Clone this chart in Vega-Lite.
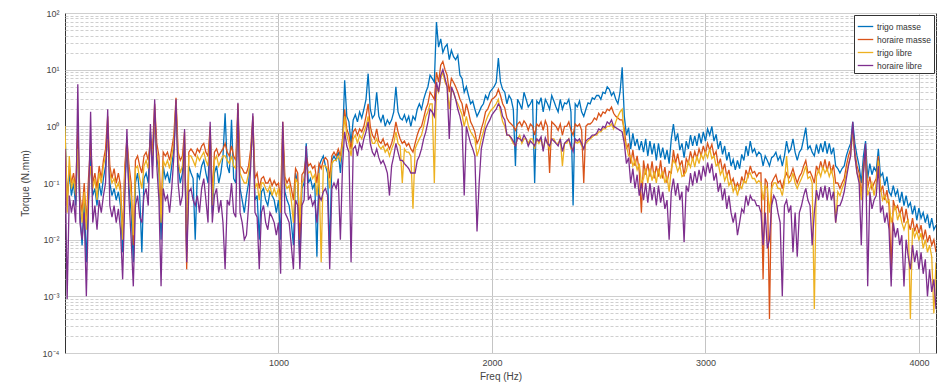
{
  "$schema": "https://vega.github.io/schema/vega-lite/v6.json",
  "width": 871,
  "height": 340,
  "autosize": {"type": "none"},
  "padding": {"left": 65, "top": 13, "right": 12, "bottom": 37},
  "background": "white",
  "config": {
    "font": "Liberation Sans",
    "view": {"stroke": "#333333", "strokeWidth": 1},
    "axis": {"labelColor": "#444444", "titleColor": "#444444", "labelFontSize": 9, "titleFontSize": 10, "titleFontWeight": "normal", "domain": false, "ticks": false}
  },
  "data": {"values": [
{"f":0,"a":0.9,"b":0.6,"c":1.0,"d":0.4},
{"f":10,"a":0.05,"b":0.04,"c":0.03,"d":0.0009},
{"f":20,"a":0.15,"b":0.2,"c":0.3,"d":0.06},
{"f":30,"a":0.06,"b":0.1,"c":0.08,"d":0.03},
{"f":40,"a":0.1,"b":0.15,"c":0.12,"d":0.05},
{"f":50,"a":0.04,"b":0.08,"c":0.06,"d":0.02},
{"f":60,"a":0.6,"b":0.9,"c":0.4,"d":5.5},
{"f":70,"a":0.03,"b":0.06,"c":0.05,"d":0.02},
{"f":80,"a":0.008,"b":0.03,"c":0.02,"d":0.01},
{"f":90,"a":0.05,"b":0.1,"c":0.07,"d":0.03},
{"f":100,"a":0.004,"b":0.02,"c":0.015,"d":0.001},
{"f":110,"a":0.05,"b":0.12,"c":0.08,"d":0.04},
{"f":120,"a":0.3,"b":0.5,"c":0.2,"d":1.8},
{"f":130,"a":0.06,"b":0.1,"c":0.08,"d":0.02},
{"f":140,"a":0.08,"b":0.15,"c":0.12,"d":0.04},
{"f":150,"a":0.04,"b":0.08,"c":0.05,"d":0.015},
{"f":160,"a":0.1,"b":0.2,"c":0.15,"d":0.05},
{"f":170,"a":0.06,"b":0.12,"c":0.1,"d":0.03},
{"f":180,"a":0.12,"b":0.25,"c":0.2,"d":0.06},
{"f":190,"a":0.2,"b":0.4,"c":0.3,"d":0.1},
{"f":200,"a":0.9,"b":1.5,"c":0.6,"d":2.0},
{"f":210,"a":0.1,"b":0.2,"c":0.15,"d":0.04},
{"f":220,"a":0.06,"b":0.12,"c":0.1,"d":0.025},
{"f":230,"a":0.08,"b":0.18,"c":0.12,"d":0.04},
{"f":240,"a":0.05,"b":0.1,"c":0.08,"d":0.02},
{"f":250,"a":0.07,"b":0.15,"c":0.1,"d":0.035},
{"f":260,"a":0.04,"b":0.09,"c":0.07,"d":0.015},
{"f":270,"a":0.006,"b":0.012,"c":0.01,"d":0.002},
{"f":280,"a":0.1,"b":0.2,"c":0.15,"d":0.05},
{"f":290,"a":0.4,"b":0.6,"c":0.5,"d":0.9},
{"f":300,"a":0.08,"b":0.2,"c":0.15,"d":0.05},
{"f":310,"a":0.03,"b":0.1,"c":0.06,"d":0.01},
{"f":320,"a":0.004,"b":0.008,"c":0.012,"d":0.0015},
{"f":330,"a":0.1,"b":0.25,"c":0.18,"d":0.04},
{"f":340,"a":0.15,"b":0.3,"c":0.2,"d":0.06},
{"f":350,"a":0.06,"b":0.2,"c":0.12,"d":0.025},
{"f":360,"a":0.006,"b":0.15,"c":0.08,"d":0.02},
{"f":370,"a":0.12,"b":0.3,"c":0.2,"d":0.06},
{"f":380,"a":0.15,"b":0.35,"c":0.25,"d":0.08},
{"f":390,"a":0.1,"b":0.25,"c":0.18,"d":0.04},
{"f":400,"a":0.8,"b":0.6,"c":0.5,"d":1.1},
{"f":410,"a":0.2,"b":0.4,"c":0.3,"d":0.12},
{"f":420,"a":1.5,"b":2.5,"c":1.2,"d":3.0},
{"f":430,"a":0.3,"b":0.5,"c":0.35,"d":0.2},
{"f":440,"a":0.15,"b":0.3,"c":0.2,"d":0.05},
{"f":450,"a":0.01,"b":0.03,"c":0.02,"d":0.0015},
{"f":460,"a":0.2,"b":0.35,"c":0.25,"d":0.08},
{"f":470,"a":0.12,"b":0.3,"c":0.2,"d":0.05},
{"f":480,"a":0.15,"b":0.35,"c":0.25,"d":0.06},
{"f":490,"a":0.1,"b":0.25,"c":0.18,"d":0.03},
{"f":500,"a":0.2,"b":0.4,"c":0.3,"d":0.08},
{"f":510,"a":0.4,"b":0.7,"c":0.5,"d":0.3},
{"f":520,"a":2.0,"b":3.2,"c":2.5,"d":3.0},
{"f":530,"a":0.2,"b":0.35,"c":0.25,"d":0.1},
{"f":540,"a":0.1,"b":0.25,"c":0.15,"d":0.04},
{"f":550,"a":0.15,"b":0.3,"c":0.2,"d":0.06},
{"f":560,"a":0.5,"b":0.8,"c":0.6,"d":0.9},
{"f":570,"a":0.006,"b":0.003,"c":0.01,"d":0.004},
{"f":580,"a":0.2,"b":0.35,"c":0.3,"d":0.07},
{"f":590,"a":0.15,"b":0.4,"c":0.3,"d":0.08},
{"f":600,"a":0.12,"b":0.35,"c":0.25,"d":0.05},
{"f":610,"a":0.01,"b":0.3,"c":0.2,"d":0.04},
{"f":620,"a":0.15,"b":0.4,"c":0.3,"d":0.06},
{"f":630,"a":0.12,"b":0.35,"c":0.25,"d":0.03},
{"f":640,"a":0.2,"b":0.45,"c":0.3,"d":0.08},
{"f":650,"a":0.25,"b":0.5,"c":0.35,"d":0.12},
{"f":660,"a":0.15,"b":0.35,"c":0.25,"d":0.05},
{"f":670,"a":0.1,"b":0.3,"c":0.2,"d":0.02},
{"f":680,"a":0.8,"b":1.0,"c":0.7,"d":1.2},
{"f":690,"a":0.03,"b":0.06,"c":0.04,"d":0.02},
{"f":700,"a":0.15,"b":0.35,"c":0.25,"d":0.06},
{"f":710,"a":0.2,"b":0.4,"c":0.3,"d":0.08},
{"f":720,"a":0.1,"b":0.3,"c":0.2,"d":0.03},
{"f":730,"a":0.15,"b":0.35,"c":0.25,"d":0.05},
{"f":740,"a":0.3,"b":0.4,"c":0.3,"d":0.02},
{"f":750,"a":1.7,"b":0.5,"c":0.3,"d":0.003},
{"f":760,"a":0.2,"b":0.35,"c":0.25,"d":0.05},
{"f":770,"a":0.15,"b":0.3,"c":0.22,"d":0.04},
{"f":780,"a":1.3,"b":0.45,"c":0.3,"d":0.1},
{"f":790,"a":0.12,"b":0.3,"c":0.2,"d":0.03},
{"f":800,"a":0.1,"b":0.25,"c":0.18,"d":0.025},
{"f":810,"a":2.0,"b":2.5,"c":1.5,"d":2.6},
{"f":820,"a":0.08,"b":0.2,"c":0.15,"d":0.03},
{"f":830,"a":0.05,"b":0.18,"c":0.12,"d":0.02},
{"f":840,"a":0.03,"b":0.15,"c":0.1,"d":0.01},
{"f":850,"a":0.06,"b":0.15,"c":0.1,"d":0.012},
{"f":860,"a":0.1,"b":0.2,"c":0.15,"d":0.04},
{"f":870,"a":0.3,"b":0.4,"c":0.3,"d":0.2},
{"f":880,"a":1.2,"b":1.5,"c":0.9,"d":1.7},
{"f":890,"a":0.05,"b":0.12,"c":0.08,"d":0.03},
{"f":900,"a":0.06,"b":0.15,"c":0.1,"d":0.025},
{"f":910,"a":0.01,"b":0.08,"c":0.05,"d":0.003},
{"f":920,"a":0.07,"b":0.12,"c":0.1,"d":0.03},
{"f":930,"a":0.08,"b":0.13,"c":0.1,"d":0.04},
{"f":940,"a":0.05,"b":0.1,"c":0.08,"d":0.02},
{"f":950,"a":0.04,"b":0.1,"c":0.07,"d":0.015},
{"f":960,"a":0.07,"b":0.12,"c":0.09,"d":0.03},
{"f":970,"a":0.06,"b":0.09,"c":0.06,"d":0.025},
{"f":980,"a":0.05,"b":0.11,"c":0.08,"d":0.02},
{"f":990,"a":0.03,"b":0.09,"c":0.06,"d":0.012},
{"f":1000,"a":0.05,"b":0.1,"c":0.08,"d":0.02},
{"f":1010,"a":0.01,"b":0.05,"c":0.03,"d":0.0025},
{"f":1020,"a":0.8,"b":1.2,"c":0.6,"d":1.2},
{"f":1030,"a":0.07,"b":0.13,"c":0.1,"d":0.03},
{"f":1040,"a":0.05,"b":0.1,"c":0.08,"d":0.025},
{"f":1050,"a":0.04,"b":0.12,"c":0.09,"d":0.02},
{"f":1060,"a":0.02,"b":0.08,"c":0.05,"d":0.008},
{"f":1070,"a":0.008,"b":0.05,"c":0.02,"d":0.003},
{"f":1080,"a":0.15,"b":0.18,"c":0.12,"d":0.05},
{"f":1090,"a":0.1,"b":0.15,"c":0.1,"d":0.04},
{"f":1100,"a":0.004,"b":0.01,"c":0.02,"d":0.003},
{"f":1110,"a":0.08,"b":0.14,"c":0.1,"d":0.04},
{"f":1120,"a":0.1,"b":0.16,"c":0.12,"d":0.05},
{"f":1130,"a":0.5,"b":0.3,"c":0.2,"d":0.45},
{"f":1140,"a":0.1,"b":0.2,"c":0.15,"d":0.05},
{"f":1150,"a":0.12,"b":0.22,"c":0.16,"d":0.06},
{"f":1160,"a":0.08,"b":0.18,"c":0.12,"d":0.04},
{"f":1170,"a":0.1,"b":0.2,"c":0.14,"d":0.05},
{"f":1180,"a":0.005,"b":0.1,"c":0.06,"d":0.02},
{"f":1190,"a":0.2,"b":0.22,"c":0.15,"d":0.06},
{"f":1200,"a":0.25,"b":0.18,"c":0.004,"d":0.05},
{"f":1210,"a":0.3,"b":0.25,"c":0.2,"d":0.07},
{"f":1220,"a":0.2,"b":0.28,"c":0.2,"d":0.08},
{"f":1230,"a":0.15,"b":0.25,"c":0.18,"d":0.06},
{"f":1240,"a":0.006,"b":0.12,"c":0.08,"d":0.003},
{"f":1250,"a":0.25,"b":0.3,"c":0.22,"d":0.08},
{"f":1260,"a":0.3,"b":0.35,"c":0.25,"d":0.1},
{"f":1270,"a":0.25,"b":0.3,"c":0.25,"d":0.08},
{"f":1280,"a":0.35,"b":0.4,"c":0.3,"d":0.12},
{"f":1290,"a":0.15,"b":0.3,"c":0.25,"d":0.01},
{"f":1300,"a":0.5,"b":0.6,"c":0.5,"d":0.2},
{"f":1310,"a":6.5,"b":2.0,"c":1.5,"d":0.8},
{"f":1320,"a":1.5,"b":0.9,"c":0.7,"d":0.45},
{"f":1330,"a":1.2,"b":0.7,"c":0.5,"d":0.35},
{"f":1340,"a":0.5,"b":0.4,"c":0.3,"d":0.004},
{"f":1350,"a":1.3,"b":0.8,"c":0.6,"d":0.4},
{"f":1360,"a":1.6,"b":0.9,"c":0.7,"d":0.45},
{"f":1370,"a":1.2,"b":0.7,"c":0.5,"d":0.3},
{"f":1380,"a":1.8,"b":0.9,"c":0.7,"d":0.5},
{"f":1390,"a":1.4,"b":0.8,"c":0.6,"d":0.4},
{"f":1400,"a":2.0,"b":1.0,"c":0.8,"d":0.6},
{"f":1410,"a":3.0,"b":1.5,"c":1.0,"d":0.8},
{"f":1420,"a":8.5,"b":2.5,"c":1.5,"d":1.2},
{"f":1430,"a":2.0,"b":1.0,"c":0.7,"d":0.5},
{"f":1440,"a":1.4,"b":0.7,"c":0.5,"d":0.35},
{"f":1450,"a":1.6,"b":0.6,"c":0.5,"d":0.3},
{"f":1460,"a":4.0,"b":0.9,"c":0.6,"d":0.4},
{"f":1470,"a":1.5,"b":0.55,"c":0.45,"d":0.28},
{"f":1480,"a":1.2,"b":0.5,"c":0.4,"d":0.22},
{"f":1490,"a":1.6,"b":0.6,"c":0.45,"d":0.25},
{"f":1500,"a":1.0,"b":0.45,"c":0.35,"d":0.2},
{"f":1510,"a":1.3,"b":0.5,"c":0.4,"d":0.15},
{"f":1520,"a":1.1,"b":0.4,"c":0.3,"d":0.06},
{"f":1530,"a":1.3,"b":0.5,"c":0.4,"d":0.2},
{"f":1540,"a":1.8,"b":0.7,"c":0.5,"d":0.3},
{"f":1550,"a":5.0,"b":1.2,"c":0.8,"d":0.5},
{"f":1560,"a":1.8,"b":0.8,"c":0.5,"d":0.35},
{"f":1570,"a":1.4,"b":0.6,"c":0.45,"d":0.25},
{"f":1580,"a":1.3,"b":0.5,"c":0.1,"d":0.25},
{"f":1590,"a":1.6,"b":0.55,"c":0.4,"d":0.22},
{"f":1600,"a":1.2,"b":0.45,"c":0.35,"d":0.2},
{"f":1610,"a":1.5,"b":0.5,"c":0.35,"d":0.18},
{"f":1620,"a":1.0,"b":0.4,"c":0.3,"d":0.15},
{"f":1630,"a":1.5,"b":0.35,"c":0.035,"d":0.15},
{"f":1640,"a":1.3,"b":0.5,"c":0.4,"d":0.15},
{"f":1650,"a":2.0,"b":0.7,"c":0.5,"d":0.25},
{"f":1660,"a":2.5,"b":0.9,"c":0.6,"d":0.3},
{"f":1670,"a":2.0,"b":1.0,"c":0.7,"d":0.4},
{"f":1680,"a":3.0,"b":1.4,"c":1.0,"d":0.6},
{"f":1690,"a":4.0,"b":2.0,"c":1.5,"d":0.8},
{"f":1700,"a":5.0,"b":2.5,"c":1.8,"d":1.2},
{"f":1710,"a":8.0,"b":4.0,"c":2.5,"d":2.0},
{"f":1720,"a":7.0,"b":3.5,"c":2.5,"d":1.8},
{"f":1730,"a":6.0,"b":3.0,"c":0.1,"d":1.5},
{"f":1740,"a":69,"b":9.0,"c":5.0,"d":6.0},
{"f":1750,"a":25,"b":6.0,"c":4.0,"d":4.0},
{"f":1760,"a":35,"b":12,"c":7.0,"d":8.0},
{"f":1770,"a":20,"b":14,"c":9.0,"d":10},
{"f":1780,"a":25,"b":10,"c":6.0,"d":7.0},
{"f":1790,"a":28,"b":8.0,"c":5.0,"d":5.0},
{"f":1800,"a":15,"b":4.0,"c":2.0,"d":0.6},
{"f":1810,"a":22,"b":7.0,"c":4.5,"d":5.0},
{"f":1820,"a":17,"b":6.0,"c":4.0,"d":4.0},
{"f":1830,"a":15,"b":5.0,"c":3.0,"d":3.0},
{"f":1840,"a":18,"b":4.0,"c":2.5,"d":2.0},
{"f":1850,"a":8.0,"b":3.0,"c":2.0,"d":1.5},
{"f":1860,"a":7.0,"b":2.5,"c":1.6,"d":1.0},
{"f":1870,"a":4.0,"b":1.5,"c":1.0,"d":0.06},
{"f":1880,"a":5.0,"b":2.5,"c":1.5,"d":1.0},
{"f":1890,"a":3.5,"b":1.8,"c":1.0,"d":0.7},
{"f":1900,"a":2.5,"b":1.2,"c":0.8,"d":0.5},
{"f":1910,"a":2.8,"b":1.0,"c":0.7,"d":0.4},
{"f":1920,"a":2.0,"b":0.8,"c":0.6,"d":0.3},
{"f":1930,"a":1.5,"b":0.5,"c":0.3,"d":0.014},
{"f":1940,"a":1.8,"b":0.6,"c":0.4,"d":0.1},
{"f":1950,"a":2.2,"b":0.9,"c":0.6,"d":0.4},
{"f":1960,"a":2.5,"b":1.2,"c":0.8,"d":0.6},
{"f":1970,"a":3.5,"b":1.8,"c":1.2,"d":0.9},
{"f":1980,"a":3.0,"b":2.0,"c":1.5,"d":1.1},
{"f":1990,"a":4.0,"b":2.5,"c":1.8,"d":1.3},
{"f":2000,"a":4.5,"b":3.0,"c":2.0,"d":1.6},
{"f":2010,"a":5.0,"b":3.2,"c":2.2,"d":1.8},
{"f":2020,"a":6.0,"b":3.5,"c":2.5,"d":2.0},
{"f":2030,"a":16,"b":4.5,"c":3.0,"d":2.5},
{"f":2040,"a":6.0,"b":3.5,"c":1.8,"d":2.2},
{"f":2050,"a":4.5,"b":2.5,"c":1.2,"d":1.5},
{"f":2060,"a":4.0,"b":2.1,"c":1.0,"d":1.3},
{"f":2070,"a":2.5,"b":1.4,"c":0.7,"d":0.7},
{"f":2080,"a":3.5,"b":1.2,"c":0.7,"d":0.7},
{"f":2090,"a":3.0,"b":1.1,"c":0.6,"d":0.63},
{"f":2100,"a":2.0,"b":1.0,"c":0.5,"d":0.55},
{"f":2110,"a":0.2,"b":0.85,"c":0.45,"d":0.45},
{"f":2120,"a":3.0,"b":1.1,"c":0.6,"d":0.63},
{"f":2130,"a":2.5,"b":1.2,"c":0.7,"d":0.6},
{"f":2140,"a":2.0,"b":1.0,"c":0.5,"d":0.55},
{"f":2150,"a":4.0,"b":1.25,"c":0.6,"d":0.7},
{"f":2160,"a":3.0,"b":1.1,"c":0.6,"d":0.6},
{"f":2170,"a":2.2,"b":0.85,"c":0.5,"d":0.45},
{"f":2180,"a":2.5,"b":1.1,"c":0.6,"d":0.55},
{"f":2190,"a":3.0,"b":1.0,"c":0.6,"d":0.5},
{"f":2200,"a":0.1,"b":0.7,"c":0.4,"d":0.45},
{"f":2210,"a":2.8,"b":1.1,"c":0.6,"d":0.6},
{"f":2220,"a":2.5,"b":1.0,"c":0.5,"d":0.55},
{"f":2230,"a":3.2,"b":1.2,"c":0.6,"d":0.65},
{"f":2240,"a":1.8,"b":0.85,"c":0.4,"d":0.36},
{"f":2250,"a":3.0,"b":1.25,"c":0.6,"d":0.63},
{"f":2260,"a":2.5,"b":1.0,"c":0.5,"d":0.5},
{"f":2270,"a":2.0,"b":0.15,"c":0.4,"d":0.45},
{"f":2280,"a":3.5,"b":1.2,"c":0.6,"d":0.6},
{"f":2290,"a":2.8,"b":1.1,"c":0.6,"d":0.55},
{"f":2300,"a":2.2,"b":1.0,"c":0.5,"d":0.5},
{"f":2310,"a":1.8,"b":0.85,"c":0.5,"d":0.45},
{"f":2320,"a":3.0,"b":1.1,"c":0.6,"d":0.6},
{"f":2330,"a":2.0,"b":0.7,"c":0.2,"d":0.36},
{"f":2340,"a":2.6,"b":1.0,"c":0.5,"d":0.5},
{"f":2350,"a":2.5,"b":1.0,"c":0.5,"d":0.55},
{"f":2360,"a":3.0,"b":1.2,"c":0.6,"d":0.6},
{"f":2370,"a":1.8,"b":0.85,"c":0.4,"d":0.45},
{"f":2380,"a":0.04,"b":0.7,"c":0.4,"d":0.36},
{"f":2390,"a":2.5,"b":1.1,"c":0.55,"d":0.6},
{"f":2400,"a":2.2,"b":1.0,"c":0.5,"d":0.55},
{"f":2410,"a":2.8,"b":1.1,"c":0.55,"d":0.6},
{"f":2420,"a":1.8,"b":0.85,"c":0.45,"d":0.5},
{"f":2430,"a":1.5,"b":0.1,"c":0.4,"d":0.4},
{"f":2440,"a":2.0,"b":1.0,"c":0.5,"d":0.55},
{"f":2450,"a":2.6,"b":1.1,"c":0.55,"d":0.6},
{"f":2460,"a":2.5,"b":1.1,"c":0.6,"d":0.63},
{"f":2470,"a":3.2,"b":1.2,"c":0.65,"d":0.7},
{"f":2480,"a":3.0,"b":1.4,"c":0.7,"d":0.7},
{"f":2490,"a":3.5,"b":1.3,"c":0.7,"d":0.75},
{"f":2500,"a":3.5,"b":1.7,"c":0.8,"d":0.9},
{"f":2510,"a":3.0,"b":1.5,"c":0.8,"d":0.85},
{"f":2520,"a":4.0,"b":1.8,"c":0.9,"d":1.0},
{"f":2530,"a":3.8,"b":1.7,"c":0.9,"d":0.95},
{"f":2540,"a":5.0,"b":2.0,"c":1.0,"d":1.2},
{"f":2550,"a":4.5,"b":1.9,"c":1.0,"d":1.1},
{"f":2560,"a":3.5,"b":2.2,"c":1.1,"d":1.3},
{"f":2570,"a":4.0,"b":1.7,"c":0.9,"d":1.0},
{"f":2580,"a":3.0,"b":1.5,"c":1.2,"d":0.95},
{"f":2590,"a":2.5,"b":1.4,"c":1.5,"d":0.9},
{"f":2600,"a":4.0,"b":1.3,"c":1.8,"d":0.85},
{"f":2610,"a":11,"b":1.3,"c":2.0,"d":0.8},
{"f":2620,"a":1.5,"b":0.9,"c":0.6,"d":0.5},
{"f":2630,"a":0.7,"b":0.4,"c":0.45,"d":0.22},
{"f":2640,"a":0.95,"b":0.5,"c":0.3,"d":0.28},
{"f":2650,"a":0.4,"b":0.22,"c":0.3,"d":0.1},
{"f":2660,"a":0.75,"b":0.38,"c":0.2,"d":0.18},
{"f":2670,"a":0.45,"b":0.2,"c":0.25,"d":0.08},
{"f":2680,"a":0.6,"b":0.3,"c":0.17,"d":0.14},
{"f":2690,"a":0.38,"b":0.16,"c":0.22,"d":0.06},
{"f":2700,"a":0.55,"b":0.03,"c":0.1,"d":0.1},
{"f":2710,"a":0.35,"b":0.25,"c":0.12,"d":0.05},
{"f":2720,"a":0.6,"b":0.14,"c":0.18,"d":0.1},
{"f":2730,"a":0.3,"b":0.22,"c":0.1,"d":0.045},
{"f":2740,"a":0.55,"b":0.13,"c":0.18,"d":0.1},
{"f":2750,"a":0.32,"b":0.24,"c":0.11,"d":0.05},
{"f":2760,"a":0.5,"b":0.12,"c":0.16,"d":0.085},
{"f":2770,"a":0.25,"b":0.2,"c":0.1,"d":0.04},
{"f":2780,"a":0.5,"b":0.13,"c":0.18,"d":0.09},
{"f":2790,"a":0.28,"b":0.25,"c":0.12,"d":0.045},
{"f":2800,"a":0.42,"b":0.12,"c":0.16,"d":0.07},
{"f":2810,"a":0.26,"b":0.19,"c":0.1,"d":0.035},
{"f":2820,"a":0.38,"b":0.1,"c":0.13,"d":0.05},
{"f":2830,"a":0.22,"b":0.16,"c":0.07,"d":0.01},
{"f":2840,"a":0.6,"b":0.15,"c":0.18,"d":0.07},
{"f":2850,"a":1.1,"b":0.38,"c":0.25,"d":0.12},
{"f":2860,"a":0.55,"b":0.22,"c":0.22,"d":0.06},
{"f":2870,"a":0.75,"b":0.33,"c":0.16,"d":0.1},
{"f":2880,"a":0.38,"b":0.2,"c":0.2,"d":0.05},
{"f":2890,"a":0.5,"b":0.25,"c":0.13,"d":0.07},
{"f":2900,"a":0.28,"b":0.13,"c":0.14,"d":0.009},
{"f":2910,"a":0.55,"b":0.27,"c":0.16,"d":0.09},
{"f":2920,"a":0.4,"b":0.22,"c":0.24,"d":0.07},
{"f":2930,"a":0.7,"b":0.36,"c":0.19,"d":0.15},
{"f":2940,"a":0.45,"b":0.25,"c":0.28,"d":0.09},
{"f":2950,"a":0.68,"b":0.36,"c":0.19,"d":0.16},
{"f":2960,"a":0.45,"b":0.27,"c":0.3,"d":0.1},
{"f":2970,"a":0.75,"b":0.4,"c":0.22,"d":0.17},
{"f":2980,"a":0.5,"b":0.3,"c":0.32,"d":0.11},
{"f":2990,"a":0.8,"b":0.45,"c":0.26,"d":0.2},
{"f":3000,"a":0.55,"b":0.33,"c":0.35,"d":0.13},
{"f":3010,"a":0.9,"b":0.5,"c":0.28,"d":0.23},
{"f":3020,"a":0.7,"b":0.38,"c":0.4,"d":0.15},
{"f":3030,"a":1.0,"b":0.48,"c":0.27,"d":0.22},
{"f":3040,"a":0.55,"b":0.3,"c":0.3,"d":0.11},
{"f":3050,"a":0.72,"b":0.36,"c":0.2,"d":0.15},
{"f":3060,"a":0.4,"b":0.2,"c":0.22,"d":0.07},
{"f":3070,"a":0.55,"b":0.27,"c":0.14,"d":0.1},
{"f":3080,"a":0.32,"b":0.16,"c":0.17,"d":0.05},
{"f":3090,"a":0.45,"b":0.22,"c":0.11,"d":0.08},
{"f":3100,"a":0.25,"b":0.13,"c":0.14,"d":0.035},
{"f":3110,"a":0.35,"b":0.17,"c":0.09,"d":0.06},
{"f":3120,"a":0.2,"b":0.1,"c":0.11,"d":0.03},
{"f":3130,"a":0.26,"b":0.12,"c":0.07,"d":0.02},
{"f":3140,"a":0.17,"b":0.08,"c":0.09,"d":0.03},
{"f":3150,"a":0.25,"b":0.1,"c":0.06,"d":0.012},
{"f":3160,"a":0.18,"b":0.08,"c":0.09,"d":0.02},
{"f":3170,"a":0.32,"b":0.13,"c":0.08,"d":0.035},
{"f":3180,"a":0.25,"b":0.1,"c":0.11,"d":0.03},
{"f":3190,"a":0.45,"b":0.17,"c":0.1,"d":0.06},
{"f":3200,"a":0.3,"b":0.13,"c":0.14,"d":0.04},
{"f":3210,"a":0.55,"b":0.2,"c":0.15,"d":0.06},
{"f":3220,"a":0.35,"b":0.15,"c":0.12,"d":0.05},
{"f":3230,"a":0.4,"b":0.16,"c":0.12,"d":0.05},
{"f":3240,"a":0.3,"b":0.13,"c":0.1,"d":0.04},
{"f":3250,"a":0.35,"b":0.15,"c":0.11,"d":0.04},
{"f":3260,"a":0.32,"b":0.15,"c":0.1,"d":0.03},
{"f":3270,"a":0.2,"b":0.002,"c":0.05,"d":0.008},
{"f":3280,"a":0.3,"b":0.12,"c":0.09,"d":0.03},
{"f":3290,"a":0.25,"b":0.1,"c":0.08,"d":0.007},
{"f":3300,"a":0.2,"b":0.0004,"c":0.03,"d":0.01},
{"f":3310,"a":0.28,"b":0.1,"c":0.08,"d":0.04},
{"f":3320,"a":0.3,"b":0.12,"c":0.1,"d":0.06},
{"f":3330,"a":0.35,"b":0.14,"c":0.1,"d":0.05},
{"f":3340,"a":0.25,"b":0.1,"c":0.08,"d":0.03},
{"f":3350,"a":0.3,"b":0.11,"c":0.08,"d":0.02},
{"f":3360,"a":0.2,"b":0.08,"c":0.06,"d":0.001},
{"f":3370,"a":0.3,"b":0.12,"c":0.1,"d":0.04},
{"f":3380,"a":0.55,"b":0.15,"c":0.3,"d":0.05},
{"f":3390,"a":0.35,"b":0.12,"c":0.1,"d":0.03},
{"f":3400,"a":0.4,"b":0.14,"c":0.11,"d":0.04},
{"f":3410,"a":0.6,"b":0.18,"c":0.15,"d":0.006},
{"f":3420,"a":0.35,"b":0.13,"c":0.1,"d":0.03},
{"f":3430,"a":0.25,"b":0.1,"c":0.08,"d":0.005},
{"f":3440,"a":0.35,"b":0.13,"c":0.1,"d":0.03},
{"f":3450,"a":0.4,"b":0.15,"c":0.12,"d":0.04},
{"f":3460,"a":0.6,"b":0.2,"c":0.15,"d":0.06},
{"f":3470,"a":0.95,"b":0.25,"c":0.2,"d":0.08},
{"f":3480,"a":0.4,"b":0.15,"c":0.12,"d":0.05},
{"f":3490,"a":0.45,"b":0.16,"c":0.13,"d":0.04},
{"f":3500,"a":0.35,"b":0.13,"c":0.1,"d":0.008},
{"f":3510,"a":0.3,"b":0.1,"c":0.0006,"d":0.03},
{"f":3520,"a":0.48,"b":0.2,"c":0.13,"d":0.075},
{"f":3530,"a":0.33,"b":0.16,"c":0.17,"d":0.05},
{"f":3540,"a":0.5,"b":0.24,"c":0.13,"d":0.085},
{"f":3550,"a":0.35,"b":0.17,"c":0.19,"d":0.055},
{"f":3560,"a":0.55,"b":0.26,"c":0.15,"d":0.09},
{"f":3570,"a":0.33,"b":0.16,"c":0.18,"d":0.05},
{"f":3580,"a":0.5,"b":0.24,"c":0.13,"d":0.085},
{"f":3590,"a":0.32,"b":0.15,"c":0.17,"d":0.05},
{"f":3600,"a":0.42,"b":0.21,"c":0.12,"d":0.07},
{"f":3610,"a":0.2,"b":0.1,"c":0.02,"d":0.02},
{"f":3620,"a":0.18,"b":0.1,"c":0.07,"d":0.04},
{"f":3630,"a":0.15,"b":0.08,"c":0.06,"d":0.04},
{"f":3640,"a":0.18,"b":0.1,"c":0.08,"d":0.05},
{"f":3650,"a":0.2,"b":0.12,"c":0.1,"d":0.07},
{"f":3660,"a":0.3,"b":0.2,"c":0.15,"d":0.12},
{"f":3670,"a":0.4,"b":0.3,"c":0.22,"d":0.2},
{"f":3680,"a":0.5,"b":0.4,"c":0.3,"d":0.3},
{"f":3690,"a":1.2,"b":0.9,"c":0.8,"d":1.2},
{"f":3700,"a":0.5,"b":0.35,"c":0.3,"d":0.3},
{"f":3710,"a":0.3,"b":0.2,"c":0.15,"d":0.15},
{"f":3720,"a":0.2,"b":0.15,"c":0.12,"d":0.1},
{"f":3730,"a":0.1,"b":0.06,"c":0.05,"d":0.008},
{"f":3740,"a":0.3,"b":0.2,"c":0.15,"d":0.15},
{"f":3750,"a":0.55,"b":0.4,"c":0.3,"d":0.5},
{"f":3760,"a":0.12,"b":0.08,"c":0.06,"d":0.0015},
{"f":3770,"a":0.22,"b":0.13,"c":0.08,"d":0.07},
{"f":3780,"a":0.14,"b":0.08,"c":0.1,"d":0.035},
{"f":3790,"a":0.19,"b":0.1,"c":0.06,"d":0.05},
{"f":3800,"a":0.16,"b":0.12,"c":0.1,"d":0.06},
{"f":3810,"a":0.4,"b":0.3,"c":0.25,"d":0.2},
{"f":3820,"a":0.13,"b":0.07,"c":0.08,"d":0.03},
{"f":3830,"a":0.15,"b":0.09,"c":0.05,"d":0.04},
{"f":3840,"a":0.09,"b":0.05,"c":0.06,"d":0.02},
{"f":3850,"a":0.13,"b":0.075,"c":0.045,"d":0.03},
{"f":3860,"a":0.07,"b":0.04,"c":0.05,"d":0.015},
{"f":3870,"a":0.06,"b":0.003,"c":0.02,"d":0.0015},
{"f":3880,"a":0.09,"b":0.05,"c":0.03,"d":0.02},
{"f":3890,"a":0.06,"b":0.035,"c":0.04,"d":0.011},
{"f":3900,"a":0.075,"b":0.04,"c":0.022,"d":0.016},
{"f":3910,"a":0.045,"b":0.028,"c":0.03,"d":0.008},
{"f":3920,"a":0.07,"b":0.038,"c":0.02,"d":0.012},
{"f":3930,"a":0.04,"b":0.02,"c":0.015,"d":0.0015},
{"f":3940,"a":0.06,"b":0.035,"c":0.02,"d":0.01},
{"f":3950,"a":0.038,"b":0.02,"c":0.022,"d":0.005},
{"f":3960,"a":0.045,"b":0.015,"c":0.0004,"d":0.003},
{"f":3970,"a":0.028,"b":0.024,"c":0.016,"d":0.008},
{"f":3980,"a":0.04,"b":0.014,"c":0.011,"d":0.004},
{"f":3990,"a":0.022,"b":0.019,"c":0.014,"d":0.0065},
{"f":4000,"a":0.036,"b":0.013,"c":0.01,"d":0.003},
{"f":4010,"a":0.024,"b":0.018,"c":0.013,"d":0.006},
{"f":4020,"a":0.03,"b":0.01,"c":0.007,"d":0.0025},
{"f":4030,"a":0.02,"b":0.015,"c":0.01,"d":0.0045},
{"f":4040,"a":0.028,"b":0.009,"c":0.006,"d":0.001},
{"f":4050,"a":0.016,"b":0.012,"c":0.008,"d":0.003},
{"f":4060,"a":0.024,"b":0.008,"c":0.005,"d":0.0012},
{"f":4070,"a":0.015,"b":0.01,"c":0.0005,"d":0.002},
{"f":4080,"a":0.018,"b":0.006,"c":0.004,"d":0.0006}
  ]},
  "transform": [{"fold": ["a", "b", "c", "d"], "as": ["series", "torque"]}],
  "mark": {"type": "line", "strokeWidth": 1.3, "clip": true},
  "encoding": {
    "x": {
      "field": "f", "type": "quantitative",
      "scale": {"domain": [0, 4080], "nice": false, "zero": false},
      "axis": {"title": "Freq (Hz)", "values": [1000, 2000, 3000, 4000], "format": "d", "grid": true, "gridColor": "#c4c4c4", "gridWidth": 1, "labelPadding": 5, "titlePadding": 4}
    },
    "y": {
      "field": "torque", "type": "quantitative",
      "scale": {"type": "log", "domain": [0.0001, 100], "nice": false},
      "axis": {
        "title": "Torque (N.mm)",
        "values": [0.0001,0.0002,0.0003,0.0004,0.0005,0.0006,0.0007,0.0008,0.0009,0.001,0.002,0.003,0.004,0.005,0.006,0.007,0.008,0.009,0.01,0.02,0.03,0.04,0.05,0.06,0.07,0.08,0.09,0.1,0.2,0.3,0.4,0.5,0.6,0.7,0.8,0.9,1,2,3,4,5,6,7,8,9,10,20,30,40,50,60,70,80,90,100],
        "labelExpr": "datum.value == 100 ? '10²' : datum.value == 10 ? '10¹' : datum.value == 1 ? '10⁰' : datum.value == 0.1 ? '10⁻¹' : datum.value == 0.01 ? '10⁻²' : datum.value == 0.001 ? '10⁻³' : datum.value == 0.0001 ? '10⁻⁴' : ''",
        "labelOverlap": false,
        "labelFlush": false,
        "labelPadding": 6,
        "titlePadding": 12,
        "grid": true,
        "gridColor": "#cfcfcf",
        "gridDash": {"condition": {"test": "indexof([100,10,1,0.1,0.01,0.001,0.0001], datum.value) >= 0", "value": []}, "value": [3, 2]}
      }
    },
    "color": {
      "field": "series", "type": "nominal",
      "scale": {"domain": ["a", "b", "c", "d"], "range": ["#0072BD", "#D95319", "#EDB120", "#7E2F8E"]},
      "legend": {
        "title": null,
        "orient": "top-right",
        "offset": 2,
        "labelExpr": "datum.value == 'a' ? 'trigo masse' : datum.value == 'b' ? 'horaire masse' : datum.value == 'c' ? 'trigo libre' : 'horaire libre'",
        "symbolType": "stroke",
        "symbolSize": 240,
        "symbolStrokeWidth": 1.3,
        "labelFontSize": 8.5,
        "labelColor": "#333333",
        "labelOffset": 3,
        "rowPadding": 0,
        "padding": 3,
        "strokeColor": "#333333",
        "fillColor": "white",
        "cornerRadius": 0
      }
    }
  }
}
